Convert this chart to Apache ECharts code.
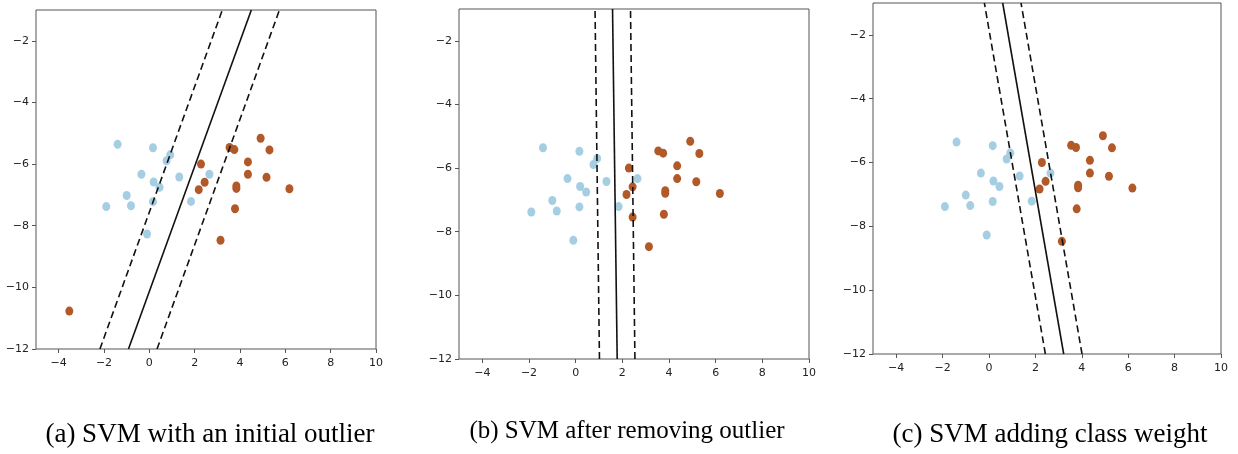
<!DOCTYPE html>
<html>
<head>
<meta charset="utf-8">
<script src="https://cdn.jsdelivr.net/npm/echarts@6.0.0/dist/echarts.min.js"></script>
<style>
  html, body { margin: 0; padding: 0; background: #fff; }
  #chart { width: 1238px; height: 454px; }
</style>
</head>
<body>
<div id="chart"></div>
<script>
// puntos de la clase 0 (azul claro)
const bluePoints = [
  [-1.40, -5.36], [0.16, -5.47], [0.92, -5.70], [0.76, -5.89], [-0.35, -6.33],
  [1.32, -6.42], [2.65, -6.33], [0.19, -6.58], [0.45, -6.75], [-1.00, -7.02],
  [-0.81, -7.35], [-1.90, -7.38], [0.16, -7.22], [1.84, -7.21], [-0.10, -8.27]
];
// puntos de la clase 1 (naranja)
const orangePoints = [
  [4.91, -5.16], [3.54, -5.46], [3.75, -5.53], [5.30, -5.54], [2.28, -6.00],
  [4.35, -5.93], [2.44, -6.59], [4.35, -6.33], [5.17, -6.43], [2.18, -6.83],
  [3.84, -6.71], [3.84, -6.79], [6.18, -6.80], [3.78, -7.45], [3.14, -8.47]
];
const outlierA = [[-3.53, -10.77]];
const extraB = [[2.44, -7.54]];

// fronteras y márgenes: [x en y=-12, x en y=-1]
const linesA = { solid: [-0.92, 4.50], low: [-2.18, 3.22], high: [0.34, 5.74] };
const linesB = { solid: [1.78, 1.58], low: [1.02, 0.83], high: [2.54, 2.35] };
const linesC = { solid: [3.22, 0.59], low: [2.43, -0.20], high: [4.01, 1.38] };

const xTicks = [-4, -2, 0, 2, 4, 6, 8, 10];
const yTicks = [-12, -10, -8, -6, -4, -2];
const captions = [
  '(a) SVM with an initial outlier',
  '(b) SVM after removing outlier',
  '(c) SVM adding class weight'
];

const grids = [
  { left: 36, top: 10, width: 340, height: 339 },
  { left: 459, top: 9, width: 350, height: 350 },
  { left: 873, top: 3, width: 348, height: 351 }
];
const captionPos = [[210, 435, 27], [627, 431, 25], [1050, 435, 27]];

const minus = v => String(v).replace('-', '\u2212');
const frame = '#555';

function axisX(i) {
  return {
    type: 'value', gridIndex: i, min: -5, max: 10,
    splitLine: { show: false }, axisLine: { show: false, onZero: false },
    axisTick: { show: true, length: 4, customValues: xTicks, lineStyle: { color: frame } },
    axisLabel: { customValues: xTicks, formatter: minus, margin: 9, color: '#222',
      fontSize: 11, fontFamily: 'DejaVu Sans' }
  };
}
function axisY(i) {
  return {
    type: 'value', gridIndex: i, min: -12, max: -1,
    splitLine: { show: false }, axisLine: { show: false, onZero: false },
    axisTick: { show: true, length: 4, customValues: yTicks, lineStyle: { color: frame } },
    axisLabel: { customValues: yTicks, formatter: minus, margin: 7, color: '#222',
      fontSize: 11, fontFamily: 'DejaVu Sans' }
  };
}

function scatter(i, data, color) {
  return {
    type: 'scatter', xAxisIndex: i, yAxisIndex: i, data,
    symbolSize: [8, 9], itemStyle: { color, opacity: 1 }, z: 2, silent: true
  };
}
function line(i, pair, dashed) {
  return {
    type: 'line', xAxisIndex: i, yAxisIndex: i,
    data: [[pair[0], -12], [pair[1], -1]],
    showSymbol: false, symbol: 'none', clip: true, z: 3, silent: true,
    lineStyle: { color: '#111', width: 1.6, type: dashed ? [7, 4] : 'solid' }
  };
}

const series = [];
const extras = [outlierA, extraB, []];
[linesA, linesB, linesC].forEach((ls, i) => {
  series.push(scatter(i, bluePoints, '#a6cee3'));
  series.push(scatter(i, orangePoints.concat(extras[i]), '#b15928'));
  series.push(line(i, ls.solid, false));
  series.push(line(i, ls.low, true));
  series.push(line(i, ls.high, true));
});

const chart = echarts.init(document.getElementById('chart'));
chart.setOption({
  animation: false,
  grid: grids.map(g => Object.assign({ show: true, borderColor: frame, borderWidth: 1,
    backgroundColor: '#fff' }, g)),
  xAxis: [0, 1, 2].map(axisX),
  yAxis: [0, 1, 2].map(axisY),
  series,
  graphic: captions.map((t, i) => ({
    type: 'text', x: captionPos[i][0], y: captionPos[i][1],
    style: { text: t, fill: '#000', font: captionPos[i][2] + 'px "Liberation Serif"',
      textAlign: 'center', textVerticalAlign: 'middle', align: 'center', verticalAlign: 'middle' }
  }))
});
</script>
</body>
</html>
